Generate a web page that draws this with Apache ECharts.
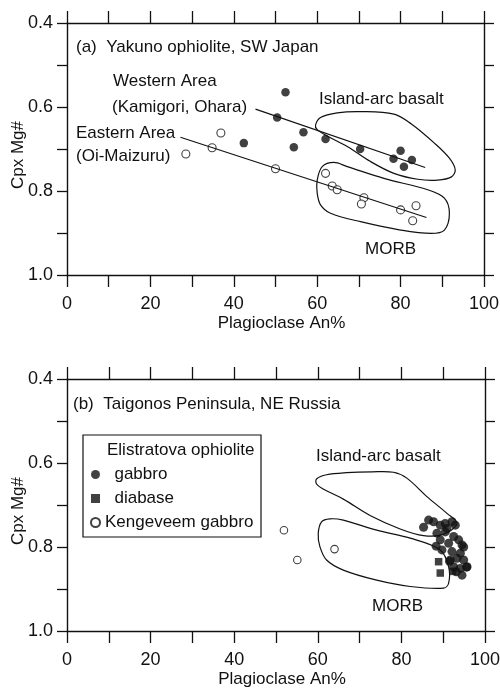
<!DOCTYPE html>
<html>
<head>
<meta charset="utf-8">
<script src="https://cdn.jsdelivr.net/npm/echarts@6/dist/echarts.min.js"></script>
<style>
  html, body { margin: 0; padding: 0; background: #fff; }
  #chart { width: 500px; height: 693px; }
</style>
</head>
<body>
<div id="chart"></div>
<script>
// ---- data (x = Plagioclase An%, y = Cpx Mg#) ----
const xTicks = [0, 20, 40, 60, 80, 100]
const yTicks = [0.4, 0.6, 0.8, 1.0]

// (a) Yakuno ophiolite
const westernA = [[52.4, 0.565], [50.4, 0.625], [56.7, 0.660], [54.4, 0.696], [42.4, 0.686], [62.0, 0.676],
    [70.3, 0.700], [80.0, 0.704], [78.3, 0.723], [82.7, 0.726], [80.8, 0.742]]
const easternA = [[28.5, 0.712], [34.8, 0.697], [36.9, 0.662], [50.0, 0.747], [62.0, 0.758], [63.6, 0.788],
    [64.8, 0.797], [71.2, 0.816], [70.6, 0.831], [80.0, 0.845], [83.7, 0.835], [82.9, 0.871]]
const westLineA = [[45.2, 0.605], [85.9, 0.744]]
const eastLineA = [[27.2, 0.672], [86.2, 0.863]]
const arcFieldA = [[59.6, 0.643], [60.8, 0.625], [64.8, 0.614], [70.4, 0.611], [78.4, 0.617], [82.5, 0.640],
    [88.1, 0.686], [91.7, 0.722], [93.1, 0.750], [92.1, 0.767], [88.9, 0.774], [84.1, 0.772], [78.4, 0.758],
    [72.8, 0.730], [67.2, 0.694], [62.4, 0.669], [60.0, 0.654]]
const morbFieldA = [[60.0, 0.774], [61.2, 0.742], [64.0, 0.732], [67.2, 0.742], [76.0, 0.770], [86.5, 0.797],
    [90.5, 0.817], [91.7, 0.853], [90.5, 0.893], [87.3, 0.901], [80.0, 0.893], [70.4, 0.873], [63.2, 0.853],
    [60.8, 0.833], [60.0, 0.805]]

// (b) Taigonos Peninsula
const gabbroB = [[85.3, 0.753], [86.5, 0.736], [87.7, 0.740], [89.3, 0.748], [92.1, 0.740], [92.9, 0.748],
    [88.5, 0.767], [90.5, 0.764], [92.5, 0.775], [93.7, 0.783], [89.3, 0.783], [91.3, 0.791], [94.5, 0.795],
    [89.7, 0.807], [92.1, 0.811], [94.1, 0.815], [94.9, 0.800], [91.7, 0.831], [93.3, 0.827], [94.9, 0.831],
    [92.5, 0.847], [94.1, 0.851], [95.7, 0.847], [94.5, 0.867], [93.1, 0.859], [90.9, 0.756], [88.3, 0.798],
    [90.5, 0.744], [91.5, 0.834], [95.6, 0.848]]
const diabaseB = [[88.9, 0.835], [89.3, 0.862], [92.3, 0.858]]
const kengeveemB = [[51.9, 0.760], [55.1, 0.831], [64.0, 0.805]]
const arcFieldB = [[59.7, 0.638], [62.1, 0.628], [66.9, 0.623], [73.0, 0.621], [78.1, 0.622], [81.3, 0.636],
    [86.1, 0.680], [90.9, 0.720], [93.3, 0.744], [90.0, 0.770], [85.3, 0.773], [79.7, 0.757], [72.5, 0.725],
    [66.1, 0.686], [61.3, 0.662], [59.7, 0.650]]
const morbFieldB = [[60.9, 0.740], [62.9, 0.733], [66.1, 0.736], [74.1, 0.760], [82.1, 0.779], [89.3, 0.807],
    [91.3, 0.847], [91.3, 0.886], [90.1, 0.898], [82.1, 0.894], [74.1, 0.879], [66.1, 0.855], [62.1, 0.831],
    [60.5, 0.799], [60.1, 0.768]]

const FONT = "'Liberation Sans Narrow', 'Arial Narrow', 'Liberation Sans', Arial, sans-serif"
const INK = '#111'

const chart = echarts.init(document.getElementById('chart'))

// ticks every 10, labels only on the listed tick values
function xAxes (gridIndex) {
    const base = {
        gridIndex, type: 'value', min: 0, max: 100, interval: 10,
        splitLine: { show: false },
        axisLine: { show: true, onZero: false, lineStyle: { color: INK, width: 1.4 } },
        axisTick: { show: true, inside: false, length: 12, lineStyle: { color: INK, width: 1.3 } }
    }
    return [
        Object.assign({}, base, {
            position: 'bottom',
            name: 'Plagioclase An%', nameLocation: 'middle', nameGap: 40, nameMoveOverlap: false,
            nameTextStyle: { fontFamily: FONT, fontSize: 17, color: INK, padding: [0, 0, 0, 12] },
            axisLabel: {
                margin: 20, fontFamily: FONT, fontSize: 18, color: INK,
                formatter: v => xTicks.includes(Math.round(v)) ? String(Math.round(v)) : ''
            }
        }),
        Object.assign({}, base, { position: 'top', axisLabel: { show: false } })
    ]
}

function yAxes (gridIndex) {
    const base = {
        gridIndex, type: 'value', min: 0.4, max: 1.0, interval: 0.1, inverse: true,
        splitLine: { show: false },
        axisLine: { show: true, onZero: false, lineStyle: { color: INK, width: 1.4 } },
        axisTick: { show: true, inside: false, length: 10, lineStyle: { color: INK, width: 1.3 } }
    }
    return [
        Object.assign({}, base, {
            position: 'left',
            name: 'Cpx Mg#', nameLocation: 'middle', nameGap: 40, nameMoveOverlap: false,
            nameTextStyle: { fontFamily: FONT, fontSize: 17, color: INK, padding: [0, 12, 0, 0] },
            axisLabel: {
                margin: 14, fontFamily: FONT, fontSize: 18, color: INK,
                formatter: v => {
                    const t = yTicks.find(t => Math.abs(t - v) < 1e-6)
                    return t === undefined ? '' : t.toFixed(1)
                }
            }
        }),
        Object.assign({}, base, { position: 'right', axisLabel: { show: false } })
    ]
}

function fieldSeries (name, pts, xi, yi) {
    return {
        name, type: 'custom', xAxisIndex: xi, yAxisIndex: yi, silent: true,
        data: pts,
        renderItem: (params, api) => {
            if (params.dataIndex !== 0) return
            return {
                type: 'polygon',
                shape: { points: pts.map(p => api.coord(p)), smooth: 0.35 },
                style: { fill: 'none', stroke: INK, lineWidth: 1.2 }
            }
        }
    }
}

function lineSeries (pts, xi, yi) {
    return {
        type: 'line', xAxisIndex: xi, yAxisIndex: yi, data: pts, symbol: 'none', silent: true,
        lineStyle: { color: INK, width: 1.2 }
    }
}

const filled = { color: INK }
const open = { color: '#fff', borderColor: INK, borderWidth: 1.1 }

function txt (x, y, text, size) {
    return {
        type: 'text', x, y,
        style: { text, fontFamily: FONT, fontSize: size || 17, fill: INK, verticalAlign: 'middle' }
    }
}

const option = {
    backgroundColor: '#fff',
    animation: false,
    grid: [
        { left: 67, top: 23, width: 417, height: 252, outerBoundsMode: 'none' },
        { left: 67, top: 379, width: 418, height: 252, outerBoundsMode: 'none' }
    ],
    xAxis: [...xAxes(0), ...xAxes(1)],
    yAxis: [...yAxes(0), ...yAxes(1)],
    legend: {
        orient: 'vertical', left: 90, top: 465, padding: 0,
        itemWidth: 9, itemHeight: 9, itemGap: 5,
        data: ['gabbro', 'diabase', 'Kengeveem gabbro'],
        formatter: name => name === 'Kengeveem gabbro' ? name : '  ' + name,
        textStyle: { fontFamily: FONT, fontSize: 17, color: INK, lineHeight: 19 }
    },
    graphic: [
        { type: 'rect', shape: { x: 83, y: 435, width: 178, height: 102 },
          style: { fill: 'none', stroke: INK, lineWidth: 1.2 } },
        txt(76, 47, '(a)  Yakuno ophiolite, SW Japan'),
        txt(113, 81, 'Western Area'),
        txt(112, 107, '(Kamigori, Ohara)'),
        txt(76, 133, 'Eastern Area'),
        txt(76, 156, '(Oi-Maizuru)'),
        txt(319, 99, 'Island-arc basalt'),
        txt(365, 249, 'MORB'),
        txt(73, 404, '(b)  Taigonos Peninsula, NE Russia'),
        txt(107, 450, 'Elistratova ophiolite'),
        txt(316, 456, 'Island-arc basalt'),
        txt(372, 606, 'MORB')
    ],
    series: [
        fieldSeries('arcA', arcFieldA, 0, 0),
        fieldSeries('morbA', morbFieldA, 0, 0),
        lineSeries(westLineA, 0, 0),
        lineSeries(eastLineA, 0, 0),
        { name: 'Western Area', type: 'scatter', xAxisIndex: 0, yAxisIndex: 0, data: westernA,
          symbol: 'circle', symbolSize: 8.5, itemStyle: filled },
        { name: 'Eastern Area', type: 'scatter', xAxisIndex: 0, yAxisIndex: 0, data: easternA,
          symbol: 'circle', symbolSize: 8, itemStyle: open },

        fieldSeries('arcB', arcFieldB, 2, 2),
        fieldSeries('morbB', morbFieldB, 2, 2),
        { name: 'gabbro', type: 'scatter', xAxisIndex: 2, yAxisIndex: 2, data: gabbroB,
          symbol: 'circle', symbolSize: 9, itemStyle: filled },
        { name: 'diabase', type: 'scatter', xAxisIndex: 2, yAxisIndex: 2, data: diabaseB,
          symbol: 'rect', symbolSize: 7.5, itemStyle: filled },
        { name: 'Kengeveem gabbro', type: 'scatter', xAxisIndex: 2, yAxisIndex: 2, data: kengeveemB,
          symbol: 'circle', symbolSize: 7.5, itemStyle: open }
    ]
}

chart.setOption(option)
</script>
</body>
</html>
